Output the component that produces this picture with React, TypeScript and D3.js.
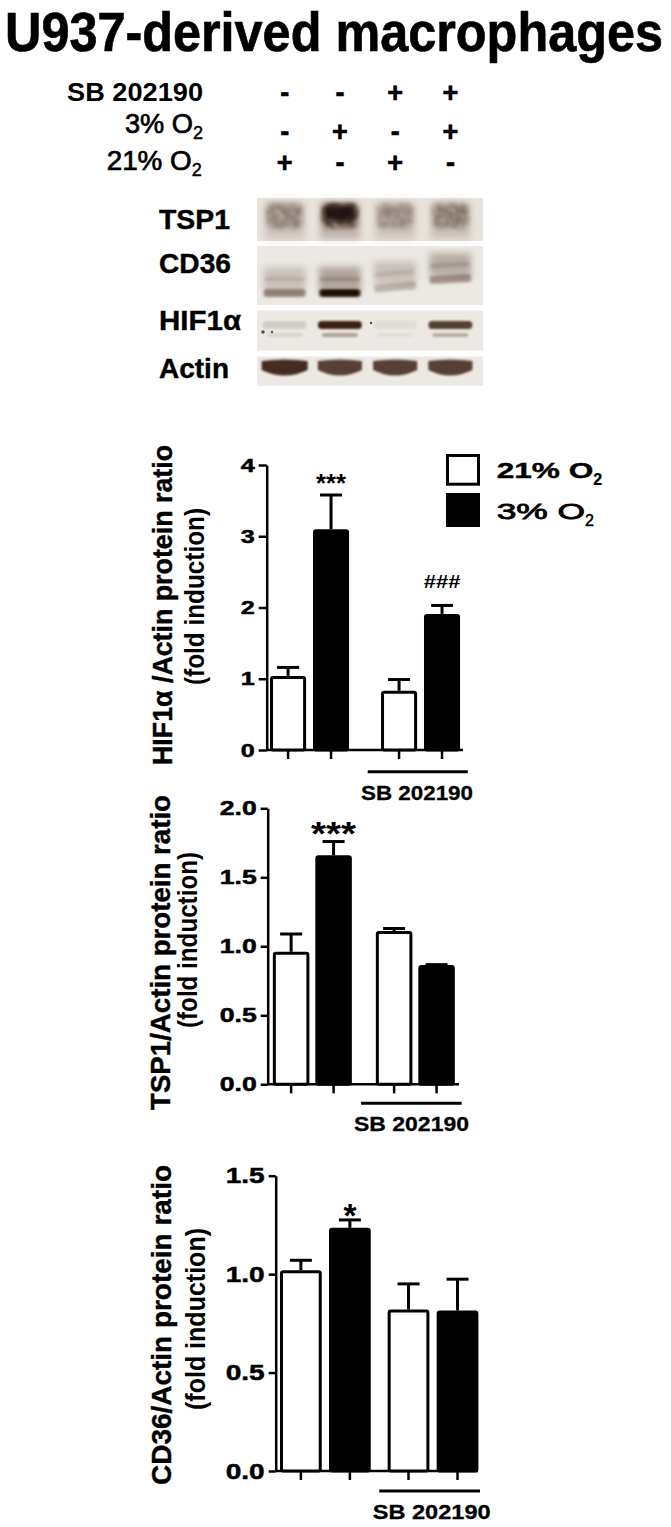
import React, { useEffect, useRef } from 'react';
import * as d3 from 'd3';

// ---------- values ----------
const groups = ['control', 'SB 202190'];
const conditions = ['21% O2', '3% O2'];

// treatment table above the blot
const sbSigns = ['-', '-', '+', '+'];
const hypoxiaSigns = ['-', '+', '-', '+'];
const normoxiaSigns = ['+', '-', '+', '-'];

// blot rows and rough band strength (0..1) per lane
const blotRows = ['TSP1', 'CD36', 'HIF1α', 'Actin'];
const tsp1Band = [0.55, 1.0, 0.48, 0.62];
const cd36Band = [0.62, 1.0, 0.3, 0.5];
const cd36Smear = [0.2, 0.35, 0.2, 0.3];
const hifBand = [0.14, 1.0, 0.06, 0.85];
const hifLowerBand = [0.1, 0.35, 0.06, 0.3];
const actinBand = [0.95, 0.85, 0.85, 0.85];

// HIF1α / Actin
const hifMeans = [1.04, 3.1, 0.83, 1.91];
const hifErrors = [0.14, 0.5, 0.18, 0.14];
const hifMarks = ['', '***', '', '###'];
const hifTicks = [0, 1, 2, 3, 4];

// TSP1 / Actin
const tspMeans = [0.96, 1.66, 1.11, 0.865];
const tspErrors = [0.14, 0.11, 0.03, 0.013];
const tspMarks = ['', '***', '', ''];
const tspTicks = [0, 0.5, 1, 1.5, 2];

// CD36 / Actin
const cd36Means = [1.02, 1.235, 0.82, 0.815];
const cd36Errors = [0.058, 0.048, 0.138, 0.167];
const cd36Marks = ['', '*', '', ''];
const cd36Ticks = [0, 0.5, 1, 1.5];

const FONT = '"Liberation Sans", Arial, Helvetica, sans-serif';
const BAND = '#3d2412';

// chart layouts
const panels = [
  {
    means: hifMeans, errors: hifErrors, marks: hifMarks, ticks: hifTicks, fmt: d3.format('d'),
    yMax: 4, yRange: [750, 465], xRange: [266.7, 463.4], padIn: 0.288, padOut: 0.03, innerPad: 0.16,
    axisEnd: 463, tickFont: 19, tickLen: 8, tickGap: 12, tickTL: 14,
    sbY: 771.7, sbExt: [13.3, 7.7], sbTextX: 417, sbTextY: 800, sbTL: 112,
    label1: 'HIF1α /Actin protein ratio', label2: '(fold induction)',
    l1x: 172, l1y: 605, l1len: 320, l2x: 204, l2y: 596.5, l2len: 177,
    markStyles: { '***': { font: 26, tl: 30, gap: 16 }, '###': { font: 19, tl: 36.7, gap: 22.5 } },
  },
  {
    means: tspMeans, errors: tspErrors, marks: tspMarks, ticks: tspTicks, fmt: d3.format('.1f'),
    yMax: 2, yRange: [1084.3, 808.3], xRange: [267.7, 460], padIn: 0.233, padOut: 0.05, innerPad: 0.14,
    axisEnd: 459, tickFont: 20, tickLen: 7, tickGap: 11, tickTL: 37,
    sbY: 1103.3, sbExt: [14.8, 6.8], sbTextX: 411.5, sbTextY: 1130.7, sbTL: 115,
    label1: 'TSP1/Actin protein ratio', label2: '(fold induction)',
    l1x: 170, l1y: 952.5, l1len: 315, l2x: 197, l2y: 940, l2len: 176,
    markStyles: { '***': { font: 34, tl: 45, gap: 13.7 } },
  },
  {
    means: cd36Means, errors: cd36Errors, marks: cd36Marks, ticks: cd36Ticks, fmt: d3.format('.1f'),
    yMax: 1.5, yRange: [1471, 1175.7], xRange: [275.7, 482.7], padIn: 0.157, padOut: 0.04, innerPad: 0.148,
    axisEnd: 478, tickFont: 22, tickLen: 7, tickGap: 11, tickTL: 39,
    sbY: 1491, sbExt: [8.4, 1.6], sbTextX: 431.7, sbTextY: 1519, sbTL: 118,
    label1: 'CD36/Actin protein ratio', label2: '(fold induction)',
    l1x: 171, l1y: 1325, l1len: 320, l2x: 205, l2y: 1319, l2len: 182,
    markStyles: { '*': { font: 34, tl: 13, gap: 10.8 } },
  },
];

type Sel = d3.Selection<any, unknown, null, undefined>;

function addText(parent: Sel, txt: string, x: number, y: number, size: number, weight: string, opts: any = {}) {
  const t = parent.append('text')
    .attr('x', x).attr('y', y)
    .attr('font-size', size)
    .attr('font-weight', weight)
    .attr('fill', '#000')
    .attr('text-anchor', opts.anchor || 'start')
    .text(txt);
  if (opts.tl) t.attr('textLength', opts.tl).attr('lengthAdjust', 'spacingAndGlyphs');
  if (opts.baseline) t.attr('dominant-baseline', opts.baseline);
  if (opts.heavy) t.attr('stroke', '#000').attr('stroke-width', opts.heavy);
  return t;
}

const laneX = d3.scalePoint<number>().domain(d3.range(4)).range([257, 478]).padding(0.5);

function drawHeader(svg: Sel) {
  // title: a bit taller than wide, like the original
  svg.append('text')
    .attr('transform', 'translate(5,51) scale(1,1.13)')
    .attr('font-size', 49).attr('font-weight', 'bold')
    .attr('stroke', '#000').attr('stroke-width', 0.6)
    .attr('textLength', 658).attr('lengthAdjust', 'spacingAndGlyphs')
    .text('U937-derived macrophages');

  addText(svg, 'SB 202190', 203, 100.7, 26, 'bold', { anchor: 'end', tl: 136 });
  addText(svg, '3% O', 125, 132.7, 27, 'normal', { tl: 68, heavy: 0.7 });
  addText(svg, '2', 193, 138.5, 18, 'normal', { heavy: 0.5 });
  addText(svg, '21% O', 106.7, 170, 27, 'normal', { tl: 85, heavy: 0.7 });
  addText(svg, '2', 191.7, 175.5, 18, 'normal', { heavy: 0.5 });

  const rows = [
    { signs: sbSigns, y: 92.7 },
    { signs: hypoxiaSigns, y: 131.7 },
    { signs: normoxiaSigns, y: 162.7 },
  ];
  rows.forEach(r => {
    r.signs.forEach((s, i) => {
      addText(svg, s, laneX(i)!, r.y, 27, 'bold', { anchor: 'middle', baseline: 'central', heavy: 0.6 });
    });
  });
}

function drawBlot(svg: Sel) {
  const defs = svg.append('defs');
  [1, 1.6, 2.5, 3.5].forEach((s, i) => {
    defs.append('filter').attr('id', 'blur' + i)
      .attr('x', '-30%').attr('y', '-60%').attr('width', '160%').attr('height', '220%')
      .append('feGaussianBlur').attr('stdDeviation', s);
  });
  const mottle = defs.append('filter').attr('id', 'mottle')
    .attr('x', '-30%').attr('y', '-40%').attr('width', '160%').attr('height', '180%');
  mottle.append('feGaussianBlur').attr('in', 'SourceGraphic').attr('stdDeviation', 2.4).attr('result', 'blur');
  mottle.append('feTurbulence').attr('type', 'fractalNoise').attr('baseFrequency', 0.13)
    .attr('numOctaves', 2).attr('seed', 7).attr('result', 'noise');
  mottle.append('feColorMatrix').attr('in', 'noise').attr('type', 'matrix')
    .attr('values', '0 0 0 0 0  0 0 0 0 0  0 0 0 0 0  1.8 0 0 0 -0.45').attr('result', 'mask');
  mottle.append('feGaussianBlur').attr('in', 'mask').attr('stdDeviation', 0.8).attr('result', 'softmask');
  mottle.append('feComposite').attr('in', 'blur').attr('in2', 'softmask')
    .attr('operator', 'arithmetic').attr('k1', 0.5).attr('k2', 0.5);

  const blotLeft = 257, blotRight = 483;
  const panelsY: [number, number][] = [[198, 241], [246, 305], [310.5, 350.5], [356.5, 386]];
  const labelBase = [229.3, 273.3, 330, 378.3];
  const labelTL = [71, 72, 82, 70];

  blotRows.forEach((name, r) => {
    svg.append('rect')
      .attr('x', blotLeft).attr('y', panelsY[r][0])
      .attr('width', blotRight - blotLeft).attr('height', panelsY[r][1] - panelsY[r][0])
      .attr('fill', r === 0 ? '#e8e3dc' : '#ece9e4');
    addText(svg, name, 159, labelBase[r], 28, 'bold', { tl: labelTL[r], heavy: 0.4 });
  });

  const g = svg.append('g');

  // TSP1
  tsp1Band.forEach((v, i) => {
    const cx = laneX(i)!;
    g.append('rect').attr('x', cx - 20).attr('y', 203).attr('width', 40).attr('height', 36)
      .attr('fill', BAND).attr('opacity', 0.08 + 0.15 * v).attr('filter', 'url(#blur3)');
    g.append('rect').attr('x', cx - 18).attr('y', 203).attr('width', 36).attr('height', 25).attr('rx', 6)
      .attr('fill', BAND).attr('opacity', 0.8 * v).attr('filter', 'url(#mottle)');
    if (v > 0.8) {
      g.append('rect').attr('x', cx - 16).attr('y', 205).attr('width', 32).attr('height', 16).attr('rx', 6)
        .attr('fill', '#1e1007').attr('opacity', 0.9).attr('filter', 'url(#blur2)');
    }
  });

  // CD36
  const cd36Y = [293, 293, 287, 279];
  const cd36Tilt = [0, 0, -5, -3];
  cd36Band.forEach((v, i) => {
    const cx = laneX(i)!;
    const by = cd36Y[i];
    g.append('rect').attr('x', cx - 21).attr('y', by - 26).attr('width', 42).attr('height', 24)
      .attr('fill', BAND).attr('opacity', cd36Smear[i]).attr('filter', 'url(#blur3)');
    g.append('rect').attr('x', cx - 20).attr('y', by - 16).attr('width', 40).attr('height', 4)
      .attr('fill', BAND).attr('opacity', cd36Smear[i] * 0.6).attr('filter', 'url(#blur1)')
      .attr('transform', `rotate(${cd36Tilt[i]},${cx},${by})`);
    g.append('rect').attr('x', cx - 21).attr('y', by - 4).attr('width', 42).attr('height', 8).attr('rx', 3)
      .attr('fill', BAND).attr('opacity', v * 0.8).attr('filter', 'url(#blur1)')
      .attr('transform', `rotate(${cd36Tilt[i]},${cx},${by})`);
    if (v > 0.8) {
      g.append('rect').attr('x', cx - 19).attr('y', by - 3).attr('width', 38).attr('height', 6).attr('rx', 3)
        .attr('fill', '#150a04').attr('opacity', 0.95).attr('filter', 'url(#blur0)');
    }
  });

  // HIF1α
  hifBand.forEach((v, i) => {
    const cx = laneX(i)!;
    g.append('rect').attr('x', cx - 22).attr('y', 321).attr('width', 44).attr('height', 8).attr('rx', 4)
      .attr('fill', BAND).attr('opacity', v).attr('filter', 'url(#blur0)');
    g.append('rect').attr('x', cx - 18).attr('y', 333).attr('width', 36).attr('height', 4).attr('rx', 2)
      .attr('fill', BAND).attr('opacity', hifLowerBand[i]).attr('filter', 'url(#blur0)');
  });
  [[263, 332, 1.8], [272, 332, 1.2], [371, 323, 1.2]].forEach(([x, y, r]) => {
    g.append('circle').attr('cx', x).attr('cy', y).attr('r', r).attr('fill', BAND).attr('opacity', 0.8);
  });

  // Actin
  actinBand.forEach((v, i) => {
    const cx = laneX(i)!;
    const w = i === 0 ? 23 : 22;
    const x0 = cx - w, x1 = cx + w;
    const p = d3.path();
    p.moveTo(x0, 361);
    p.quadraticCurveTo(cx, 358, x1, 361);
    p.lineTo(x1, 370);
    p.quadraticCurveTo(cx, 381, x0, 370);
    p.closePath();
    g.append('path').attr('d', p.toString()).attr('fill', BAND).attr('opacity', v)
      .attr('filter', 'url(#blur0)');
  });
}

function drawPanel(svg: Sel, p: any) {
  const g = svg.append('g');
  const y = d3.scaleLinear().domain([0, p.yMax]).range(p.yRange);
  const outer = d3.scaleBand().domain(groups).range(p.xRange).paddingInner(p.padIn).paddingOuter(p.padOut);
  const inner = d3.scaleBand().domain(conditions).range([0, outer.bandwidth()])
    .paddingInner(p.innerPad).paddingOuter(0);
  const x0 = p.xRange[0];
  const base = y(0);

  const rows = p.means.map((m: number, i: number) => ({
    mean: m, err: p.errors[i], mark: p.marks[i],
    group: groups[Math.floor(i / 2)], cond: conditions[i % 2],
  }));

  // y axis
  const yAxis = d3.axisLeft(y).tickValues(p.ticks).tickFormat(p.fmt)
    .tickSize(p.tickLen).tickSizeOuter(0).tickPadding(p.tickGap - p.tickLen);
  const ya = g.append('g').attr('transform', `translate(${x0},0)`).call(yAxis as any);
  ya.select('.domain').attr('stroke', '#000').attr('stroke-width', 2.5);
  ya.selectAll('.tick line').attr('stroke', '#000').attr('stroke-width', 2.5);
  ya.selectAll('.tick text')
    .attr('font-size', p.tickFont).attr('font-weight', 'bold').attr('font-family', FONT)
    .attr('fill', '#000').attr('stroke', '#000').attr('stroke-width', 0.5)
    .attr('textLength', p.tickTL).attr('lengthAdjust', 'spacingAndGlyphs');

  // x axis
  g.append('line').attr('x1', x0).attr('x2', p.axisEnd).attr('y1', base).attr('y2', base)
    .attr('stroke', '#000').attr('stroke-width', 2.5);

  const cx = (d: any) => outer(d.group)! + inner(d.cond)! + inner.bandwidth() / 2;

  g.selectAll('.xtick').data(rows).enter().append('line')
    .attr('x1', cx).attr('x2', cx).attr('y1', base).attr('y2', base + 9)
    .attr('stroke', '#000').attr('stroke-width', 2.5);

  // error bars (upper half)
  g.selectAll('.err').data(rows).enter().append('line')
    .attr('x1', cx).attr('x2', cx)
    .attr('y1', (d: any) => y(d.mean)).attr('y2', (d: any) => y(d.mean + d.err) + 1.5)
    .attr('stroke', '#000').attr('stroke-width', 3);
  g.selectAll('.cap').data(rows).enter().append('line')
    .attr('x1', (d: any) => cx(d) - 11).attr('x2', (d: any) => cx(d) + 11)
    .attr('y1', (d: any) => y(d.mean + d.err) + 1.5).attr('y2', (d: any) => y(d.mean + d.err) + 1.5)
    .attr('stroke', '#000').attr('stroke-width', 3);

  // bars
  g.selectAll('.bar').data(rows).enter().append('rect')
    .attr('x', (d: any) => outer(d.group)! + inner(d.cond)! + 1.5)
    .attr('width', inner.bandwidth() - 3)
    .attr('y', (d: any) => y(d.mean) + 1.5)
    .attr('height', (d: any) => base - y(d.mean) - 1.5)
    .attr('rx', 1.5)
    .attr('fill', (d: any) => (d.cond === '21% O2' ? '#fff' : '#000'))
    .attr('stroke', '#000').attr('stroke-width', 3);

  // significance marks
  rows.forEach((d: any) => {
    if (!d.mark) return;
    const st = p.markStyles[d.mark];
    const c = y(d.mean + d.err) - st.gap;
    const shift = d.mark[0] === '*' ? 0.56 : 0.36;
    addText(g, d.mark, cx(d), c + shift * st.font, st.font, 'bold', { anchor: 'middle', tl: st.tl });
  });

  // SB 202190 bracket
  const sbStart = outer('SB 202190')!;
  g.append('line')
    .attr('x1', sbStart - p.sbExt[0]).attr('x2', sbStart + outer.bandwidth() + p.sbExt[1])
    .attr('y1', p.sbY).attr('y2', p.sbY)
    .attr('stroke', '#000').attr('stroke-width', 3);
  addText(g, 'SB 202190', p.sbTextX, p.sbTextY, 21, 'bold', { anchor: 'middle', tl: p.sbTL, heavy: 0.3 });

  // y labels
  g.append('text')
    .attr('transform', `translate(${p.l1x},${p.l1y}) rotate(-90)`)
    .attr('text-anchor', 'middle').attr('font-size', 28).attr('font-weight', 'bold')
    .attr('stroke', '#000').attr('stroke-width', 0.4)
    .attr('textLength', p.l1len).attr('lengthAdjust', 'spacingAndGlyphs')
    .text(p.label1);
  g.append('text')
    .attr('transform', `translate(${p.l2x},${p.l2y}) rotate(-90)`)
    .attr('text-anchor', 'middle').attr('font-size', 27).attr('font-weight', 'bold')
    .attr('textLength', p.l2len).attr('lengthAdjust', 'spacingAndGlyphs')
    .text(p.label2);
}

function drawLegend(svg: Sel) {
  const g = svg.append('g');
  const items = [
    { name: conditions[0], fill: '#fff', y: 455.5, h: 28.7, weight: 'bold', heavy: 0.4, base: 478.3, tl: 96.6, sx: 593.3 },
    { name: conditions[1], fill: '#000', y: 494.5, h: 31, weight: 'normal', heavy: 0.8, base: 519, tl: 88.3, sx: 585 },
  ];
  items.forEach(it => {
    g.append('rect').attr('x', 447.5).attr('y', it.y).attr('width', 31).attr('height', it.h)
      .attr('fill', it.fill).attr('stroke', '#000').attr('stroke-width', 3);
    addText(g, it.name.replace('O2', 'O'), 496.7, it.base, 22, it.weight, { tl: it.tl, heavy: it.heavy });
    addText(g, '2', it.sx, it.base + 6.5, 16, it.weight, { heavy: it.heavy * 0.6 });
  });
}

export default function App() {
  const ref = useRef<SVGSVGElement>(null);

  useEffect(() => {
    document.body.style.margin = '0';
    const svg = d3.select(ref.current) as any;
    svg.selectAll('*').remove();
    svg.attr('font-family', FONT);
    svg.append('rect').attr('width', 671).attr('height', 1527).attr('fill', '#fff');
    drawHeader(svg);
    drawBlot(svg);
    panels.forEach(p => drawPanel(svg, p));
    drawLegend(svg);
  }, []);

  return <svg ref={ref} width={671} height={1527} style={{ display: 'block' }} />;
}
